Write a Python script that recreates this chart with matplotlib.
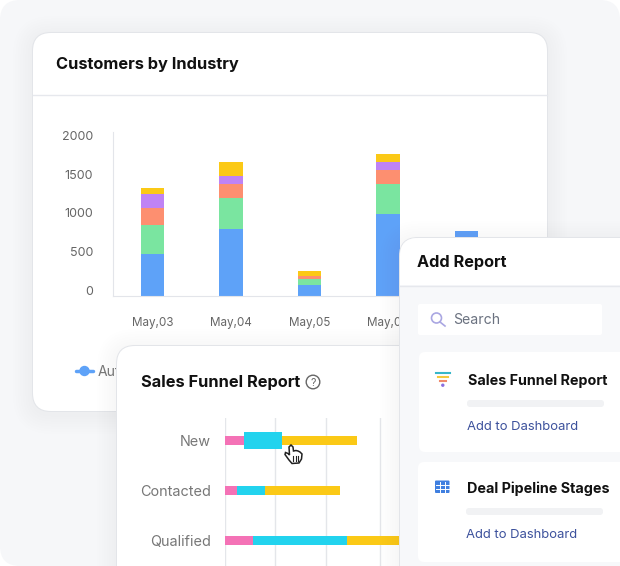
#!/usr/bin/env python3
"""Dashboard mockup: Customers by Industry stacked bars with funnel and add report cards."""
import matplotlib

matplotlib.use("Agg")
import matplotlib.pyplot as plt
import matplotlib.transforms as mtrans
from matplotlib.patches import FancyBboxPatch, Circle, Polygon

plt.rcParams.update({"font.family": ["Inter", "DejaVu Sans"], "font.size": 10})

W, H = 620, 566

# stacked bars
days = ["May,03", "May,04", "May,05", "May,06", "May,07"]
seg_blue = [545, 870, 140, 1060, 840]
seg_green = [370, 405, 80, 390, 0]
seg_orange = [225, 180, 40, 180, 0]
seg_purple = [175, 105, 0, 105, 0]
seg_yellow = [80, 175, 65, 110, 0]
seg_colors = ["#5ea2f8", "#7ae5a0", "#fd8f70", "#bf83f5", "#fbc916"]
y_ticks = [0, 500, 1000, 1500, 2000]

# funnel
stages = ["New", "Contacted", "Qualified"]
fun_pink = [19, 12, 28]
fun_cyan = [38, 28, 94]
fun_yellow = [75, 75, 80]
fun_grid = [0, 50, 101, 155]

fig = plt.figure(figsize=(W / 100, H / 100), dpi=100, facecolor="white")


def px_axes(z):
    ax = fig.add_axes([0, 0, 1, 1], zorder=z)
    ax.set_xlim(0, W)
    ax.set_ylim(H, 0)
    ax.axis("off")
    return ax


def box(ax, x0, y0, x1, y1, r, color, z=1, alpha=1.0, ec="none", lw=0):
    p = FancyBboxPatch((x0, y0), x1 - x0, y1 - y0, boxstyle=f"round,pad=0,rounding_size={r}",
                       fc=color, ec=ec, lw=lw, alpha=alpha, zorder=z, clip_on=False)
    ax.add_patch(p)


def shadow(ax, x0, y0, x1, y1, r, z=1):
    for i in range(8, 0, -1):
        d = i * 2.5
        box(ax, x0 - d, y0 - d + 3, x1 + d, y1 + d + 3, r + d, "#808080", z=z, alpha=0.005)
    box(ax, x0 - 1, y0 - 1, x1 + 1, y1 + 1, r + 1, "#e3e5e9", z=z)


def label(ax, x, y, s, size=10, color="#111111", weight="normal", ha="left", z=5):
    ax.text(x, y + 1, s, fontsize=size, color=color, fontweight=weight, ha=ha, va="center", zorder=z)


# page and first card
base = px_axes(0)
box(base, 0, 0, W, H, 20, "#f6f7f9")
shadow(base, 33, 33, 547, 411, 18)
box(base, 33, 33, 547, 411, 18, "white", z=2)
base.plot([33, 547], [95, 95], color="#e6e8ed", lw=1, zorder=3)
label(base, 56, 63.5, "Customers by Industry", size=11.8, weight="bold")

# bar chart
ax_l, ax_r, ax_t, ax_b = 112.7, 530, 132, 296
px_per_unit = 38.6 / 500
step, first = 78.5, 152.5
ax = fig.add_axes([ax_l / W, 1 - ax_b / H, (ax_r - ax_l) / W, (ax_b - ax_t) / H], zorder=1)
ax.patch.set_visible(False)
xs = list(range(len(days)))
bottom = [0] * len(days)
for vals, col in zip([seg_blue, seg_green, seg_orange, seg_purple, seg_yellow], seg_colors):
    ax.bar(xs, vals, bottom=bottom, width=23.7 / step, color=col)
    bottom = [b + v for b, v in zip(bottom, vals)]
ax.set_xlim((ax_l - first) / step, (ax_r - first) / step)
ax.set_ylim(0, (ax_b - ax_t) / px_per_unit)
# last day label sits behind the add report card in the reference
ax.set_xticks(xs[:4])
ax.set_xticklabels(days[:4], fontsize=8.4, color="#666666")
ax.set_yticks(y_ticks)
ax.set_yticklabels([str(t) for t in y_ticks], fontsize=9, color="#666666")
ax.tick_params(axis="both", length=0)
ax.tick_params(axis="x", pad=15)
ax.tick_params(axis="y", pad=14)
shift = mtrans.ScaledTranslation(0, 6 / 100, fig.dpi_scale_trans)
for t in ax.get_yticklabels():
    t.set_transform(t.get_transform() + shift)
for s in ["top", "right"]:
    ax.spines[s].set_visible(False)
for s in ["left", "bottom"]:
    ax.spines[s].set_color("#e3e5ea")

# legend stub and second card
mid = px_axes(2)
mid.plot([76, 93], [371, 371], color=seg_colors[0], lw=2.5, zorder=1, solid_capstyle="round")
mid.add_patch(Circle((84.5, 371), 4.5, color=seg_colors[0], zorder=1))
label(mid, 98, 371, "Aut", size=10, color="#777777", z=1)
shadow(mid, 117, 346, 470, 600, 18, z=2)
box(mid, 117, 346, 470, 600, 18, "white", z=3)
label(mid, 141, 381.5, "Sales Funnel Report", size=11.8, weight="bold")
mid.add_patch(Circle((313, 382), 6.8, fc="none", ec="#666666", lw=1, zorder=5))
label(mid, 313, 381.5, "?", size=7.5, color="#666666", ha="center")

# funnel chart
f_l, f_r, f_t, f_b = 225, 440, 418, 566
axf = fig.add_axes([f_l / W, 1 - f_b / H, (f_r - f_l) / W, (f_b - f_t) / H], zorder=3)
axf.patch.set_visible(False)
axf.set_xlim(0, f_r - f_l)
axf.set_ylim(f_b - f_t, 0)
rows = [22.7, 72.7, 122.7]
left = [0, 0, 0]
for vals, col in zip([fun_pink, fun_cyan, fun_yellow], ["#f472b6", "#22d3ee", "#fbc916"]):
    axf.barh(rows, vals, left=left, height=9, color=col, zorder=3)
    left = [a + b for a, b in zip(left, vals)]
# hovered segment is drawn taller
axf.barh(rows[0], fun_cyan[0], left=fun_pink[0], height=17, color="#22d3ee", zorder=4)
axf.set_yticks(rows)
axf.set_yticklabels(stages, fontsize=10.4, color="#777777")
axf.set_xticks(fun_grid)
axf.tick_params(axis="x", length=0, labelbottom=False)
axf.tick_params(axis="y", length=0, pad=10)
axf.grid(axis="x", color="#e4e6ea", lw=1, zorder=0)
for s in axf.spines.values():
    s.set_visible(False)

# third card and cursor
top = px_axes(4)
hand = [(289, 447), (291, 445), (293, 447), (293.5, 451), (296, 450.5), (298, 451), (300, 452), (302, 454),
        (301.5, 459), (299, 463), (292, 463.5), (289, 460), (285, 454.5), (285.5, 452.5), (288, 453.5), (289.5, 455)]
top.add_patch(Polygon(hand, closed=True, fc="white", ec="#222222", lw=1.1, zorder=1))
for hx in [293, 295.5, 298]:
    top.plot([hx, hx], [456, 461], color="#222222", lw=0.8, zorder=1)
shadow(top, 400, 238, 660, 600, 18, z=2)
box(top, 400, 238, 660, 600, 18, "#f7f8fa", z=3)
box(top, 400, 238, 660, 285, 18, "white", z=3)
top.fill_between([400, 660], 265, 285, color="white", zorder=3, lw=0)
top.plot([400, 620], [285.5, 285.5], color="#e6e8ed", lw=1, zorder=4)
label(top, 417, 261.5, "Add Report", size=11.7, weight="bold")

box(top, 418, 304, 602, 335, 2, "white", z=4)
top.add_patch(Circle((436.5, 318), 5, fc="none", ec="#aaa7e2", lw=1.2, zorder=5))
top.plot([440, 445], [322, 326], color="#aaa7e2", lw=1.2, zorder=5)
label(top, 453, 318.5, "Search", size=10.2, color="#6b7280")

# (card top, card left, content top, title)
for y0, x0, cy, name in [(352, 419, 352, "Sales Funnel Report"), (462, 418, 460, "Deal Pipeline Stages")]:
    box(top, x0, y0, 660, y0 + 100, 6, "white", z=4)
    label(top, x0 + 49, cy + 27.5, name, size=10.3, weight="bold")
    box(top, x0 + 48, cy + 48, x0 + 185, cy + 55, 3, "#f1f2f4", z=5)
    label(top, x0 + 48, cy + 74, "Add to Dashboard", size=9.4, color="#3c519c")

# funnel icon
for yy, xa, xb, c in [(372.7, 436, 449.5, "#37b7c9"), (376.7, 438, 448, "#f4c93c"), (381, 440, 446, "#f08a6c")]:
    top.plot([xa, xb], [yy, yy], color=c, lw=1.5, zorder=5)
top.add_patch(Circle((442.8, 385.2), 1, color="#8b6fe0", zorder=5))

# table icon
box(top, 435, 480.5, 449.5, 493, 1, "#3f7fe0", z=5)
for xx in [439.8, 444.6]:
    top.plot([xx, xx], [482, 492], color="white", lw=0.7, zorder=6)
for yy in [484.5, 488.7]:
    top.plot([436, 448.5], [yy, yy], color="white", lw=0.7, zorder=6)

fig.savefig("out.png", dpi=100)
plt.close()
